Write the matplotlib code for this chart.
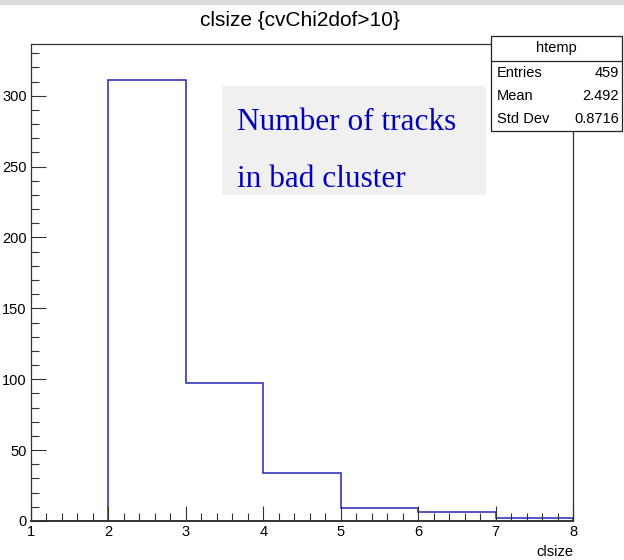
import matplotlib
matplotlib.use("Agg")
import matplotlib.pyplot as plt
from matplotlib.patches import Rectangle
from matplotlib.ticker import MultipleLocator

# histogram contents (integer clsize bins)
edges = [1, 2, 3, 4, 5, 6, 7, 8]
counts = [0, 311, 97, 34, 9, 6, 2]

title = "clsize {cvChi2dof>10}"
stats_name = "htemp"
stats_rows = [("Entries", "459"), ("Mean", "2.492"), ("Std Dev", "0.8716")]
note_lines = ["Number of tracks", "in bad cluster"]

sans = ["Liberation Sans Narrow", "Liberation Sans", "DejaVu Sans"]
serif = ["Liberation Serif", "DejaVu Serif"]

fig = plt.figure(figsize=(6.24, 5.6), dpi=100)
W, H = 624.0, 560.0

# light gray band along the top
fig.patches.append(Rectangle((0, 1 - 5 / H), 1, 5 / H, transform=fig.transFigure,
                             facecolor="#dcdcdc", edgecolor="none"))

ax = fig.add_axes([31 / W, 1 - 521 / H, (573 - 31) / W, (521 - 44) / H])
ax.stairs(counts, edges, color="#2424b8", linewidth=1.1, baseline=0, zorder=1)
ax.set_xlim(1, 8)
ax.set_ylim(0, 336.5)

ax.xaxis.set_major_locator(MultipleLocator(1))
ax.xaxis.set_minor_locator(MultipleLocator(0.2))
ax.yaxis.set_major_locator(MultipleLocator(50))
ax.yaxis.set_minor_locator(MultipleLocator(10))
ax.tick_params(which="both", direction="in", top=False, right=False,
               width=0.8, color="#333333")
ax.tick_params(which="major", length=11, labelsize=10.5, pad=3)
ax.tick_params(which="minor", length=5.5)
for lab in ax.get_xticklabels() + ax.get_yticklabels():
    lab.set_family(sans)
for s in ax.spines.values():
    s.set_linewidth(0.9)
    s.set_color("#333333")
    s.set_zorder(5)
ax.spines["bottom"].set_linewidth(1.4)

fig.text(573 / W, 1 - 552 / H, "clsize", ha="right", va="center",
         fontsize=10.5, family=sans)
fig.text(300 / W, 1 - 20 / H, title, ha="center", va="center",
         fontsize=15, family=sans)

# text box
fig.patches.append(Rectangle((222 / W, 1 - 195 / H), 264 / W, 109 / H,
                             transform=fig.transFigure, facecolor="#f0f0f0",
                             edgecolor="none", zorder=3))
fig.text(237 / W, 1 - 130 / H, note_lines[0], ha="left", va="baseline",
         fontsize=22.5, family=serif, color="#0000bb", zorder=4)
fig.text(237 / W, 1 - 187 / H, note_lines[1], ha="left", va="baseline",
         fontsize=22.5, family=serif, color="#0000bb", zorder=4)

# stats box
bx0, bx1, by0, by1 = 491, 622, 36, 131
fig.patches.append(Rectangle((bx0 / W, 1 - by1 / H), (bx1 - bx0) / W, (by1 - by0) / H,
                             transform=fig.transFigure, facecolor="white",
                             edgecolor="#222222", linewidth=0.9, zorder=5))
fig.lines.append(plt.Line2D([bx0 / W, bx1 / W], [1 - 61 / H, 1 - 61 / H],
                            transform=fig.transFigure, color="#222222",
                            linewidth=0.9, zorder=6))
fig.text((bx0 + bx1) / 2 / W, 1 - 48 / H, stats_name, ha="center", va="center",
         fontsize=10.5, family=sans, zorder=6)
for i, (k, v) in enumerate(stats_rows):
    y = 1 - (73 + 23 * i) / H
    fig.text(497 / W, y, k, ha="left", va="center", fontsize=10.5, family=sans, zorder=6)
    fig.text(619 / W, y, v, ha="right", va="center", fontsize=10.5, family=sans, zorder=6)

fig.savefig("out.png", dpi=100)
